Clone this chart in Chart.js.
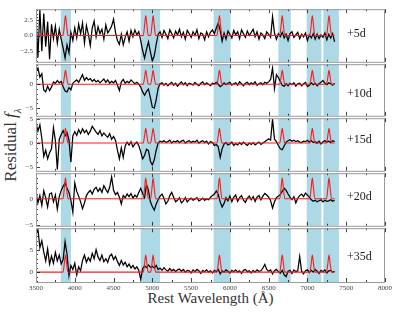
<!DOCTYPE html>
<html>
<head>
<meta charset="utf-8">
<script src="https://cdn.jsdelivr.net/npm/chart.js@4.4.0/dist/chart.umd.min.js"></script>
<style>
  body { margin: 0; background: #fff; width: 401px; height: 316px; position: relative; overflow: hidden; font-family: 'Liberation Serif', serif; }
  canvas { position: absolute; left: 0; }
  .epoch { position: absolute; left: 347px; font-size: 12px; color: #222; transform: translateY(-50%); }
  #xtitle { position: absolute; left: 36px; width: 349px; top: 290px; text-align: center; font-size: 15px; color: #333; }
  #ytitle { position: absolute; left: 12px; top: 145px; font-size: 17px; color: #333; white-space: nowrap; transform: translate(-50%, -50%) rotate(-90deg); }
</style>
</head>
<body>
<div id="xtitle">Rest Wavelength (Å)</div>
<div id="ytitle">Residual <i>f</i><sub style="font-size:11px"><i>λ</i></sub></div>

<script>
// sampling grid of the residual spectra (Å)
const waves = [
  3500,3525,3550,3575,3600,3625,3650,3675,
  3700,3725,3750,3775,3800,3825,3850,3875,
  3900,3925,3950,3975,4000,4025,4050,4075,
  4100,4125,4150,4175,4200,4225,4250,4275,
  4300,4325,4350,4375,4400,4425,4450,4475,
  4500,4525,4550,4575,4600,4625,4650,4675,
  4700,4725,4750,4775,4800,4825,4850,4875,
  4900,4925,4950,4975,5000,5025,5050,5075,
  5100,5125,5150,5175,5200,5225,5250,5275,
  5300,5325,5350,5375,5400,5425,5450,5475,
  5500,5525,5550,5575,5600,5625,5650,5675,
  5700,5725,5750,5775,5800,5825,5850,5875,
  5900,5925,5950,5975,6000,6025,6050,6075,
  6100,6125,6150,6175,6200,6225,6250,6275,
  6300,6325,6350,6375,6400,6425,6450,6475,
  6500,6525,6550,6575,6600,6625,6650,6675,
  6700,6725,6750,6775,6800,6825,6850,6875,
  6900,6925,6950,6975,7000,7025,7050,7075,
  7100,7125,7150,7175,7200,7225,7250,7275,
  7300,7325,7350
];

const res5d = [
  3.0,-3.5,4.1,-2.5, 3.5,-1.8,2.2,-3.8,
  1.8,-0.5,1.5,-1.2, 1.0,-0.6,-2.0,-3.6,
  -1.5,-2.8,0.5,-0.8, 1.2,-0.4,1.8,0.3,
  2.0,-1.2,1.6,0.2, -1.6,1.2,2.3,-0.2,
  1.4,0.3,1.0,-0.6, 1.7,0.4,0.9,1.5,
  2.6,0.5,-0.8,-1.4, 0.2,-1.5,-0.3,0.6,
  -0.9,0.8,-0.2,0.9, 0.1,0.6,-0.8,-2.4,
  -3.6,-2.2,-1.0,-2.6, -4.1,-3.2,-1.4,0.2,
  0.6,-0.3,0.8,0.2, -0.5,0.9,0.3,-0.4,
  0.7,0.1,1.0,-0.2, 0.5,-0.6,0.8,0.3,
  -0.3,0.6,0.0,0.9, -0.5,0.4,0.2,-0.7,
  0.6,-0.2,0.5,0.9, 0.3,1.2,2.0,0.8,
  -0.9,0.4,-0.6,0.7, 0.2,-0.4,0.8,0.1,
  0.6,-0.5,0.9,0.3, -0.3,0.7,0.0,0.5,
  1.0,-0.2,0.6,-0.6, 0.4,0.1,-0.5,0.6,
  0.2,-0.3,3.0,0.4, -0.6,0.3,-0.2,0.5,
  -0.4,0.2,-0.8,0.3, 0.6,-0.3,0.1,0.5,
  -0.5,0.2,-0.2,0.4, -0.8,0.1,-0.4,0.3,
  -0.6,0.2,-0.5,0.1, -0.3,0.4,-0.7,0.2,
  -0.4,0.3,-1.0
];
const res10d = [
  2.8,3.4,1.5,2.2, -1.2,-1.6,-0.4,-1.3,
  -0.6,0.5,0.2,0.8, 0.3,0.6,-0.5,-1.4,
  -1.6,-0.7,-1.2,0.2, 0.6,0.9,0.4,1.2,
  2.0,0.8,1.4,0.9, 1.2,0.6,1.0,0.5,
  0.8,0.3,0.7,1.1, 0.4,0.9,0.2,0.6,
  0.3,0.8,-0.2,-1.3, 0.5,1.0,0.2,0.6,
  0.3,0.9,0.5,0.1, 0.4,0.0,-0.6,-1.6,
  -2.3,-1.5,-1.0,-2.8, -4.8,-5.0,-3.2,-0.8,
  0.1,0.3,-0.2,0.2, -0.3,0.1,0.4,-0.2,
  0.2,-0.4,0.1,0.5, -0.1,0.3,-0.3,0.2,
  0.1,-0.2,0.4,0.0, -0.3,0.2,0.5,-0.1,
  0.3,0.0,-0.3,0.2, 0.1,0.4,0.0,-0.5,
  -0.2,0.3,-0.1,0.2, 0.4,-0.2,0.1,0.3,
  -0.2,0.5,0.1,-0.3, 0.2,0.4,-0.1,0.3,
  0.0,0.5,-0.2,0.1, 0.3,-0.1,0.4,0.2,
  0.5,1.0,3.4,-0.9, 2.0,1.4,0.6,-0.2,
  -0.4,0.1,-0.3,0.2, -0.1,0.3,-0.4,0.1,
  0.2,-0.3,0.1,0.4, -0.5,-0.2,0.3,-0.1,
  0.2,-0.3,0.1,0.4, 0.8,0.2,-0.1,0.3,
  0.1,-0.2,0.2
];
const res15d = [
  4.2,2.5,3.8,1.0, -2.8,-1.5,-3.3,-2.0,
  -1.2,3.2,0.5,-5.5, 0.8,1.8,2.6,1.5,
  2.2,0.6,-4.0,1.5, 2.4,1.6,2.8,2.0,
  3.0,2.2,2.7,1.8, 2.5,3.5,2.9,2.3,
  1.8,2.6,1.5,2.1, 1.6,1.2,2.0,0.8,
  1.4,0.6,-1.5,-3.3, -1.0,-3.0,-0.6,0.2,
  -0.4,0.3,-0.8,-0.2, 0.2,-0.5,-1.8,-3.3,
  -2.6,-1.3,-1.6,-3.8, -4.6,-3.5,-1.5,0.0,
  0.4,0.2,0.5,0.1, 0.3,0.6,0.0,0.4,
  0.2,0.5,0.1,0.4, 0.6,0.0,0.3,0.5,
  0.1,0.4,0.2,0.6, 0.0,0.3,0.5,0.1,
  0.4,-0.2,0.3,0.1, -0.5,-0.3,-0.8,-3.0,
  -1.2,-0.2,0.1,-0.4, -0.2,0.2,-0.5,-0.1,
  -0.4,0.1,-0.3,0.2, -0.2,-0.5,0.0,-0.3,
  0.1,-0.4,-0.1,0.2, -0.3,0.0,0.3,0.6,
  0.9,0.6,5.0,0.8, 0.3,-0.5,-1.2,-1.4,
  -0.6,0.2,0.5,0.7, 0.4,0.6,0.3,0.5,
  0.2,0.1,0.4,0.3, 0.6,0.2,0.5,0.1,
  0.3,0.0,0.4,-0.2, 0.3,0.5,0.2,0.4,
  0.1,0.5,0.3
];
const res20d = [
  1.2,-0.8,0.6,-1.3, 1.5,0.2,-1.6,0.9,
  1.1,-0.6,0.7,-2.0, 0.4,1.6,2.4,3.0,
  2.0,1.2,-0.3,-2.6, 3.0,1.4,0.5,-0.6,
  -1.9,-0.8,0.6,1.2, 1.6,0.9,1.8,2.2,
  1.4,2.0,1.2,2.5, 1.8,1.2,2.2,4.2,
  1.6,0.8,1.2,0.3, -1.0,0.6,0.2,0.9,
  0.4,1.0,0.1,0.7, 0.3,1.2,2.0,1.0,
  0.2,2.7,1.6,-0.6, -1.5,-2.2,-1.0,-0.2,
  0.5,0.9,0.1,-1.0, -0.5,0.6,1.2,0.3,
  -0.6,-0.3,0.2,-0.8, -0.4,0.2,-0.6,-0.2,
  0.1,-0.3,-0.1,0.2, -0.4,-0.2,0.1,-0.3,
  0.0,-0.2,0.3,0.6, 0.9,1.5,0.8,-0.6,
  -1.6,-0.9,0.2,-0.4, 0.5,-0.6,0.3,0.7,
  -0.5,0.2,0.6,-0.3, -0.7,0.1,0.5,-0.2,
  0.4,-0.5,0.3,0.6, -0.2,0.5,1.0,0.7,
  0.3,-0.4,-1.8,-0.6, 0.2,0.5,0.8,1.4,
  2.0,1.6,0.9,0.3, -0.2,0.4,-0.8,0.1,
  0.6,0.9,0.4,1.1, 0.7,0.3,-0.2,-0.5,
  -0.3,-0.6,-0.4,-0.2, -0.6,-0.3,-0.5,-0.4,
  -0.2,-0.5,-0.3
];
const res35d = [
  8.5,9.5,5.5,7.0, 4.5,2.5,5.2,1.8,
  3.6,2.0,4.4,2.5, 3.8,1.8,2.8,6.8,
  4.0,-0.8,1.5,0.6, 2.0,-0.6,1.2,0.3,
  2.6,3.8,2.2,3.2, 2.4,4.2,3.0,5.0,
  3.4,2.6,3.8,2.3, 3.0,2.2,3.6,4.0,
  2.8,3.5,2.4,1.5, 2.6,1.6,2.2,1.2,
  1.8,0.9,1.5,0.7, 1.2,0.4,-1.6,0.8,
  1.4,1.0,1.6,1.1, 1.3,0.9,1.5,0.6,
  0.9,0.4,1.0,0.5, 0.2,0.8,0.3,0.6,
  0.1,0.5,0.7,0.2, 0.6,0.0,0.4,0.3,
  -0.2,0.5,0.1,0.6, 0.3,-0.3,0.4,0.1,
  0.5,0.0,0.3,-0.2, 0.4,0.1,0.6,-0.4,
  0.3,0.0,0.5,0.2, -0.2,0.4,0.1,0.5,
  0.0,0.3,-0.3,0.4, 0.6,0.1,0.3,-0.2,
  0.4,0.0,0.5,0.2, 0.3,0.9,1.7,0.6,
  0.2,0.5,-0.4,0.3, 0.6,0.1,-0.2,0.4,
  -0.6,-1.0,0.2,0.4, -0.3,0.5,0.1,0.3,
  3.5,0.2,-0.4,0.3, 0.5,-0.1,0.4,0.0,
  0.6,0.2,-0.3,0.4, 0.1,0.5,-0.2,0.3,
  0.4,0.0,0.2
];

// He I line model (red), sampled around each line
const fitWaves = [
  3500,
  3848,3865,3880,3895,3912,
  4883,4900,4915,4930,4947,
  4978,4995,5010,5025,5042,
  5833,5850,5865,5880,5897,
  6643,6660,6675,6690,6707,
  7031,7048,7063,7078,7095,
  7246,7263,7278,7293,7310,
  7350
];
const fit5d  = [0, 0,1.6,3.2,1.6,0, 0,1.6,3.2,1.6,0, 0,1.6,3.2,1.6,0, 0,1.6,3.2,1.6,0, 0,1.6,3.2,1.6,0, 0,1.6,3.2,1.6,0, 0,1.6,3.2,1.6,0, 0];
const fit10d = [0, 0,1.45,2.9,1.45,0, 0,1.45,2.9,1.45,0, 0,1.45,2.9,1.45,0, 0,1.45,2.9,1.45,0, 0,1.45,2.9,1.45,0, 0,1.45,2.9,1.45,0, 0,1.45,2.9,1.45,0, 0];
const fit15d = [0, 0,1.55,3.1,1.55,0, 0,1.55,3.1,1.55,0, 0,1.55,3.1,1.55,0, 0,1.55,3.1,1.55,0, 0,1.55,3.1,1.55,0, 0,1.55,3.1,1.55,0, 0,1.55,3.1,1.55,0, 0];
const fit20d = [0, 0,2.0,4.0,2.0,0, 0,2.0,4.0,2.0,0, 0,2.0,4.0,2.0,0, 0,2.0,4.0,2.0,0, 0,2.0,4.0,2.0,0, 0,2.0,4.0,2.0,0, 0,2.0,4.0,2.0,0, 0];
const fit35d = [0, 0,1.9,3.8,1.9,0, 0,1.9,3.8,1.9,0, 0,1.9,3.8,1.9,0, 0,1.9,3.8,1.9,0, 0,1.9,3.8,1.9,0, 0,1.9,3.8,1.9,0, 0,1.9,3.8,1.9,0, 0];

// shaded line regions (Å)
const bandLo = [3820, 4850, 5790, 6625, 6990, 7205];
const bandHi = [3950, 5100, 6010, 6785, 7180, 7405];

const epochs = ['+5d', '+10d', '+15d', '+20d', '+35d'];
const residuals = [res5d, res10d, res15d, res20d, res35d];
const fits = [fit5d, fit10d, fit15d, fit20d, fit35d];

// y axis of each panel
const yMin = [-4.2, -6.6, -5.8, -5.2, -2.2];
const yMax = [4.2, 4.2, 5.2, 4.9, 9.8];
const yStep = [0.5, 1, 1, 1, 1];
const yMajor = [2.5, 5, 5, 5, 5];
const yDecimals = [1, 0, 0, 0, 0];

// x axis
const xMin = 3500, xMax = 8000, xStep = 250, xMajor = 500;

// panel placement on the page
const panelTop = [8, 63, 117, 172, 227];
const panelBottom = [63, 117, 172, 227, 282];
const labelY = [33, 93, 139, 196, 256];

function isMultiple(v, m) {
    return Math.abs(v / m - Math.round(v / m)) < 1e-6;
}

// put ticks on every multiple of the step (Chart.js would otherwise start at min)
function stepTicks(scale, step) {
    const out = [];
    const first = Math.ceil(scale.min / step - 1e-9);
    const last = Math.floor(scale.max / step + 1e-9);
    for (let k = first; k <= last; k++) {
        out.push({ value: Math.round(k * step * 1000) / 1000 });
    }
    scale.ticks = out;
}

const panelPlugin = {
    id: 'panelDecor',
    beforeDatasetsDraw(chart) {
        const { ctx, chartArea: a, scales: { x } } = chart;
        ctx.save();
        ctx.fillStyle = '#add8e6';
        bandLo.forEach((lo, i) => {
            const x0 = x.getPixelForValue(lo);
            const x1 = x.getPixelForValue(bandHi[i]);
            ctx.fillRect(x0, a.top, x1 - x0, a.bottom - a.top);
        });
        ctx.restore();
    },
    afterDatasetsDraw(chart) {
        const { ctx, chartArea: a, scales: { x, y } } = chart;
        const major = chart.options.plugins.panelDecor.yMajor;
        ctx.save();
        ctx.strokeStyle = '#111';
        ctx.lineWidth = 0.8;
        ctx.beginPath();
        x.ticks.forEach(t => {
            const px = Math.round(x.getPixelForValue(t.value)) + 0.5;
            const len = isMultiple(t.value, xMajor) ? 4 : 2;
            ctx.moveTo(px, a.bottom); ctx.lineTo(px, a.bottom - len);
            ctx.moveTo(px, a.top); ctx.lineTo(px, a.top + len);
        });
        y.ticks.forEach(t => {
            const py = Math.round(y.getPixelForValue(t.value)) + 0.5;
            const len = isMultiple(t.value, major) ? 4 : 2;
            ctx.moveTo(a.left, py); ctx.lineTo(a.left + len, py);
        });
        ctx.stroke();
        ctx.strokeStyle = '#9a9a9a';
        ctx.lineWidth = 1;
        ctx.strokeRect(a.left + 0.5, a.top + 0.5, a.right - a.left - 1, a.bottom - a.top);
        ctx.restore();
    }
};

function makePanel(i) {
    const last = i === epochs.length - 1;
    const padTop = 6, padBottom = last ? 2 : 6, axisH = last ? 12 : 0;
    const canvas = document.createElement('canvas');
    canvas.width = 401;
    canvas.height = panelBottom[i] - panelTop[i] + padTop + padBottom + axisH;
    canvas.style.top = (panelTop[i] - padTop) + 'px';
    document.body.appendChild(canvas);

    const black = waves.map((w, k) => ({ x: w, y: residuals[i][k] }));
    const red = fitWaves.map((w, k) => ({ x: w, y: fits[i][k] }));

    new Chart(canvas, {
        type: 'line',
        data: {
            datasets: [
                { data: red, borderColor: '#ff1a1a', borderWidth: 1.1, pointRadius: 0, cubicInterpolationMode: 'monotone' },
                { data: black, borderColor: '#000', borderWidth: 1.25, pointRadius: 0, tension: 0 }
            ]
        },
        plugins: [panelPlugin],
        options: {
            responsive: false,
            animation: false,
            events: [],
            layout: { padding: { left: 0, right: 16, top: padTop, bottom: padBottom } },
            plugins: {
                legend: { display: false },
                tooltip: { enabled: false },
                panelDecor: { yMajor: yMajor[i] }
            },
            scales: {
                x: {
                    type: 'linear',
                    min: xMin,
                    max: xMax,
                    grid: { display: false, drawTicks: false },
                    border: { display: false },
                    afterBuildTicks: s => stepTicks(s, xStep),
                    ticks: {
                        display: last,
                        autoSkip: false,
                        maxRotation: 0,
                        padding: 2,
                        color: '#444',
                        font: { family: 'Liberation Serif', size: 7 },
                        callback: v => isMultiple(v, xMajor) ? String(v) : ''
                    },
                    afterFit: s => { s.height = axisH; }
                },
                y: {
                    min: yMin[i],
                    max: yMax[i],
                    grid: { display: false, drawTicks: false },
                    border: { display: false },
                    afterBuildTicks: s => stepTicks(s, yStep[i]),
                    ticks: {
                        autoSkip: false,
                        padding: 3,
                        color: '#444',
                        font: { family: 'Liberation Serif', size: 7 },
                        callback: v => {
                            if (!isMultiple(v, yMajor[i])) return '';
                            const r = Math.round(v / yMajor[i]) * yMajor[i];
                            return (r < 0 ? '\u2212' : '') + Math.abs(r).toFixed(yDecimals[i]);
                        }
                    },
                    afterFit: s => { s.width = 36; }
                }
            }
        }
    });

    const lab = document.createElement('div');
    lab.className = 'epoch';
    lab.style.top = labelY[i] + 'px';
    lab.textContent = epochs[i];
    document.body.appendChild(lab);
}

epochs.forEach((_, i) => makePanel(i));
</script>
</body>
</html>
